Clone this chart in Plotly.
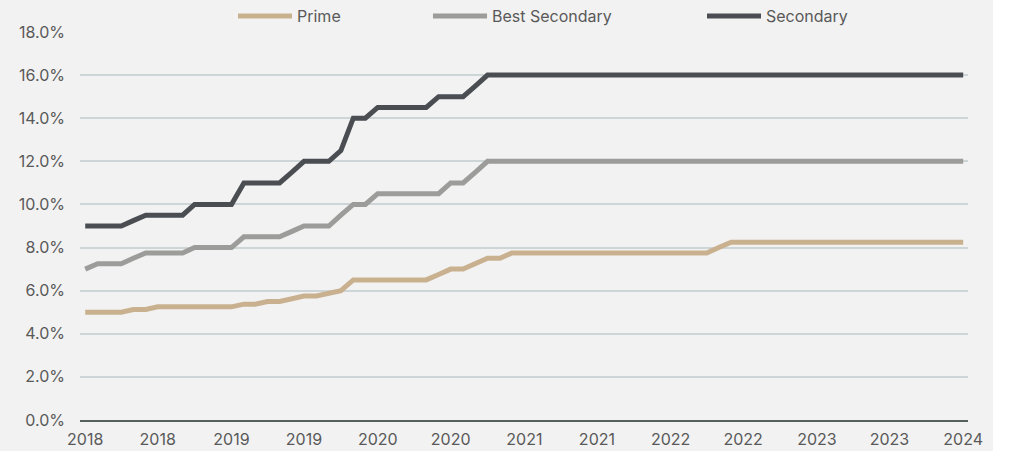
import pandas as pd
import plotly.graph_objects as go

months = pd.date_range("2018-01-01", periods=73, freq="MS")

prime = [5.0, 5.0, 5.0, 5.0, 5.125, 5.125, 5.25, 5.25, 5.25, 5.25,
         5.25, 5.25, 5.25, 5.375, 5.375, 5.5, 5.5, 5.625, 5.75, 5.75,
         5.85, 6.0, 6.5, 6.5, 6.5, 6.5, 6.5, 6.5, 6.5, 6.75,
         7.0, 7.0, 7.25, 7.5, 7.5, 7.75, 7.75, 7.75, 7.75, 7.75,
         7.75, 7.75, 7.75, 7.75, 7.75, 7.75, 7.75, 7.75, 7.75, 7.75,
         7.75, 7.75, 8.0, 8.25, 8.25, 8.25, 8.25, 8.25, 8.25, 8.25,
         8.25, 8.25, 8.25, 8.25, 8.25, 8.25, 8.25, 8.25, 8.25, 8.25,
         8.25, 8.25, 8.25]

best_secondary = [7.0, 7.25, 7.25, 7.25, 7.5, 7.75, 7.75, 7.75, 7.75, 8.0,
                  8.0, 8.0, 8.0, 8.5, 8.5, 8.5, 8.5, 8.75, 9.0, 9.0,
                  9.0, 9.5, 10.0, 10.0, 10.5, 10.5, 10.5, 10.5, 10.5, 10.5,
                  11.0, 11.0, 11.5, 12.0, 12.0, 12.0, 12.0, 12.0, 12.0, 12.0,
                  12.0, 12.0, 12.0, 12.0, 12.0, 12.0, 12.0, 12.0, 12.0, 12.0,
                  12.0, 12.0, 12.0, 12.0, 12.0, 12.0, 12.0, 12.0, 12.0, 12.0,
                  12.0, 12.0, 12.0, 12.0, 12.0, 12.0, 12.0, 12.0, 12.0, 12.0,
                  12.0, 12.0, 12.0]

secondary = [9.0, 9.0, 9.0, 9.0, 9.25, 9.5, 9.5, 9.5, 9.5, 10.0,
             10.0, 10.0, 10.0, 11.0, 11.0, 11.0, 11.0, 11.5, 12.0, 12.0,
             12.0, 12.5, 14.0, 14.0, 14.5, 14.5, 14.5, 14.5, 14.5, 15.0,
             15.0, 15.0, 15.5, 16.0, 16.0, 16.0, 16.0, 16.0, 16.0, 16.0,
             16.0, 16.0, 16.0, 16.0, 16.0, 16.0, 16.0, 16.0, 16.0, 16.0,
             16.0, 16.0, 16.0, 16.0, 16.0, 16.0, 16.0, 16.0, 16.0, 16.0,
             16.0, 16.0, 16.0, 16.0, 16.0, 16.0, 16.0, 16.0, 16.0, 16.0,
             16.0, 16.0, 16.0]

series_names = ["Prime", "Best Secondary", "Secondary"]
series_values = [prime, best_secondary, secondary]
series_colors = ["#c9b190", "#9c9c9a", "#4a4e53"]

y_ticks = [0, 2, 4, 6, 8, 10, 12, 14, 16, 18]
y_tick_labels = [f"{v:.1f}%" for v in y_ticks]

FONT = "Inter"
TEXT = "#595959"
W, H = 993, 451

legend_ids = ["legend", "legend2", "legend3"]
legend_px = [233, 428, 702]

fig = go.Figure()
for name, vals, col, lid in zip(series_names, series_values, series_colors, legend_ids):
    fig.add_trace(go.Scatter(
        x=months, y=vals, name=name, mode="lines", legend=lid,
        line=dict(color=col, width=5),
    ))

leg_common = dict(orientation="h", xanchor="left", yref="container", xref="container",
                  y=1 - 16 / H, yanchor="middle",
                  font=dict(family=FONT, size=16, color=TEXT),
                  bgcolor="rgba(0,0,0,0)", itemwidth=54)

fig.update_layout(
    width=W, height=H,
    margin=dict(l=80, r=25, t=32, b=31, autoexpand=False),
    paper_bgcolor="#f2f2f2", plot_bgcolor="#f2f2f2",
    font=dict(family=FONT, size=16, color=TEXT),
    showlegend=True,
    legend=dict(x=legend_px[0] / W, **leg_common),
    legend2=dict(x=legend_px[1] / W, **leg_common),
    legend3=dict(x=legend_px[2] / W, **leg_common),
)
fig.update_xaxes(
    range=["2017-12-19", "2024-01-13"],
    tickmode="linear", tick0="2018-01-01", dtick="M6", tickformat="%Y",
    showgrid=False, showline=True, linecolor="#56605f", linewidth=2,
    ticks="", ticklen=0, ticklabelstandoff=4,
    tickfont=dict(family=FONT, size=16, color=TEXT),
    zeroline=False, automargin=False,
)
fig.update_yaxes(
    range=[0, 18], tickmode="array", tickvals=y_ticks, ticktext=y_tick_labels,
    showgrid=True, gridcolor="#cdd5d7", gridwidth=2,
    zeroline=False, showline=False, ticks="", ticklabelstandoff=14,
    tickfont=dict(family=FONT, size=16, color=TEXT), automargin=False,
)

fig.write_html("out.html")
